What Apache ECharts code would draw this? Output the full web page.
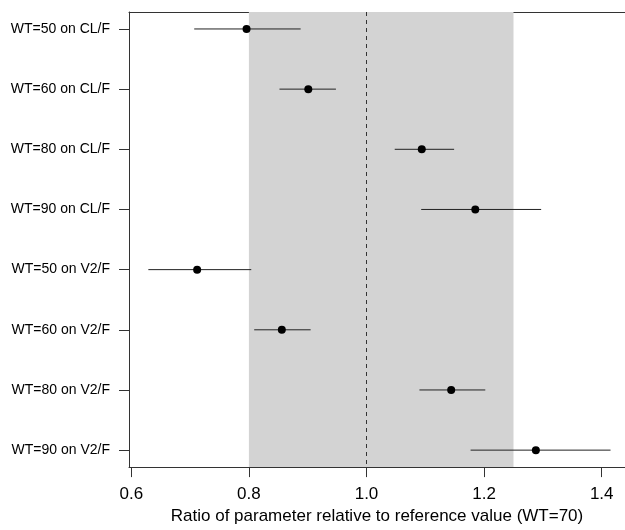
<!DOCTYPE html>
<html lang="en">
<head>
    <meta charset="UTF-8">
    <title>Forest plot</title>
    <style>
        html,body{margin:0;padding:0;background:#fff}
        #chart{width:625px;height:530px}
    </style>
</head>
<body>
<div id="chart"></div>
<script src="https://cdn.jsdelivr.net/npm/echarts@6/dist/echarts.min.js"></script>
<script>
    var categories = ['WT=50 on CL/F','WT=60 on CL/F','WT=80 on CL/F','WT=90 on CL/F',
                      'WT=50 on V2/F','WT=60 on V2/F','WT=80 on V2/F','WT=90 on V2/F'];
    var estimate = [0.796, 0.901, 1.094, 1.185, 0.712, 0.856, 1.144, 1.288];
    var lower    = [0.707, 0.852, 1.048, 1.093, 0.629, 0.809, 1.090, 1.177];
    var upper    = [0.888, 0.948, 1.149, 1.297, 0.804, 0.905, 1.202, 1.415];
    var refBand = [0.8, 1.25];
    var refValue = 1.0;
    var xTicks = [0.6, 0.8, 1.0, 1.2, 1.4];

    var fontFamily = 'Liberation Sans, Arial, sans-serif',
        lineColor = '#333';

    var rows = categories.map(function (c, i) { return i; });
    var pointData = estimate.map(function (v, i) { return [v, i]; });
    var ciData = lower.map(function (v, i) { return [v, upper[i], i]; });

    // the plot box runs past the right edge of the picture
    var xMin = 0.5961, xMax = 1.4396;

    var option = {
        animation: false,
        backgroundColor: '#fff',
        textStyle: { fontFamily: fontFamily, color: '#000' },
        grid: {
            left: 129, right: 0, top: 12, bottom: 62,
            show: false,
            containLabel: false
        },
        xAxis: [{
            type: 'value',
            min: xMin, max: xMax,
            splitLine: { show: false },
            axisLine: { show: true, onZero: false, lineStyle: { color: lineColor } },
            axisTick: { show: true, length: 10, customValues: xTicks, lineStyle: { color: lineColor } },
            axisLabel: {
                customValues: xTicks, fontSize: 17, color: '#000', margin: 19,
                formatter: function (v) { return v.toFixed(1); }
            },
            name: 'Ratio of parameter relative to reference value (WT=70)',
            nameLocation: 'middle',
            nameGap: 35,
            nameTextStyle: { fontSize: 17, color: '#000' }
        }, {
            // top edge of the box
            type: 'value',
            position: 'top',
            min: xMin, max: xMax,
            splitLine: { show: false },
            axisLine: { show: true, onZero: false, lineStyle: { color: lineColor } },
            axisTick: { show: false },
            axisLabel: { show: false }
        }],
        yAxis: {
            type: 'value',
            inverse: true,
            min: -0.282, max: 7.282,
            splitLine: { show: false },
            axisLine: { show: true, onZero: false, lineStyle: { color: lineColor } },
            axisTick: { show: true, length: 10, customValues: rows, lineStyle: { color: lineColor } },
            axisLabel: {
                customValues: rows, fontSize: 14, color: '#000', margin: 19,
                formatter: function (v) { return categories[Math.round(v)]; }
            }
        },
        series: [
            {
                type: 'custom',
                name: 'CI',
                data: ciData,
                encode: { x: [0, 1], y: 2 },
                renderItem: function (params, api) {
                    var a = api.coord([api.value(0), api.value(2)]);
                    var b = api.coord([api.value(1), api.value(2)]);
                    return {
                        type: 'line',
                        shape: { x1: a[0], y1: a[1], x2: b[0], y2: b[1] },
                        style: { stroke: '#222', lineWidth: 1 }
                    };
                },
                z: 3,
                markArea: {
                    silent: true,
                    itemStyle: { color: '#d3d3d3' },
                    data: [[{ xAxis: refBand[0] }, { xAxis: refBand[1] }]]
                },
                markLine: {
                    silent: true,
                    symbol: 'none',
                    label: { show: false },
                    lineStyle: { color: lineColor, width: 1, type: [4, 4] },
                    data: [{ xAxis: refValue }]
                }
            },
            {
                type: 'scatter',
                name: 'Estimate',
                data: pointData,
                symbolSize: 8,
                itemStyle: { color: '#000', opacity: 1 },
                z: 4
            }
        ]
    };

    var chart = echarts.init(document.getElementById('chart'));
    chart.setOption(option);
</script>
</body>
</html>
